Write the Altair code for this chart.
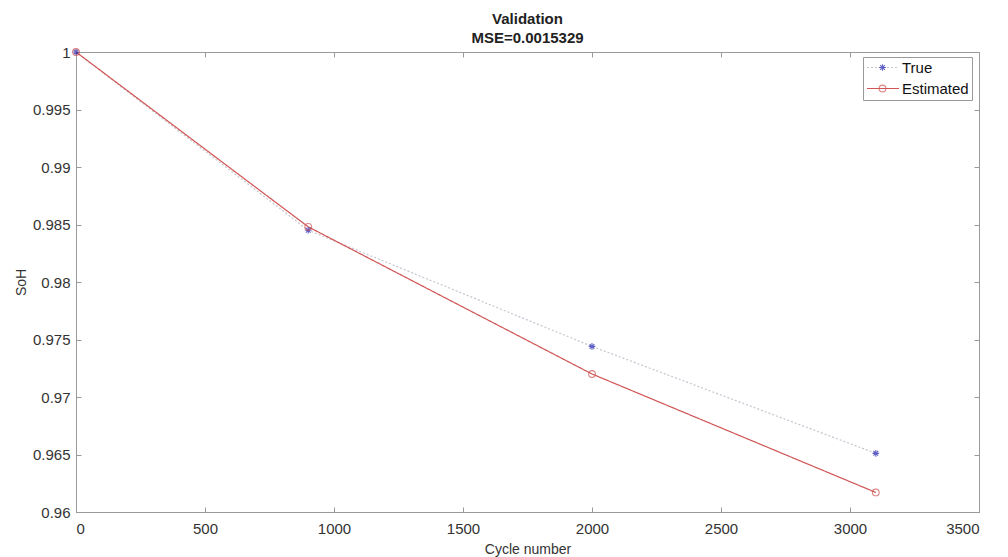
import altair as alt
import pandas as pd

# ---- data ----
cycles = [0, 900, 2000, 3100]
soh_true = [1.0, 0.9845, 0.9744, 0.9651]
soh_est = [1.0, 0.9848, 0.9720, 0.9617]
series_names = ["True", "Estimated"]
marker_keys = ["True ", "Estimated "]
x_ticks = [0, 500, 1000, 1500, 2000, 2500, 3000, 3500]
y_ticks = [0.96, 0.965, 0.97, 0.975, 0.98, 0.985, 0.99, 0.995, 1.0]
title_lines = ["Validation", "MSE=0.0015329"]

rows = []
for c, t in zip(cycles, soh_true):
    rows.append({"cycle": c, "soh": t, "series": "True"})
for c, e in zip(cycles, soh_est):
    rows.append({"cycle": c, "soh": e, "series": "Estimated"})
df = pd.DataFrame(rows)
df["series_m"] = df["series"] + " "

FONT = "Liberation Sans"
AX = "#9a9a9a"
TXT = "#333333"
line_colors = ["#c4c5d0", "#d05454"]
marker_colors = ["#2323b0", "#d05454"]
asterisk = "M-1,0L1,0M0,-1L0,1M-0.7,-0.7L0.7,0.7M-0.7,0.7L0.7,-0.7"

xscale = alt.Scale(domain=[0, 3500], nice=False, zero=False)
yscale = alt.Scale(domain=[0.96, 1.0], nice=False, zero=False)

base = alt.Chart(df)

main_x = alt.Axis(orient="bottom", values=x_ticks, format="d", ticks=False, grid=False,
                  domain=True, domainColor=AX, labelPadding=9, labelFontSize=15,
                  labelFont=FONT, labelColor=TXT, title="Cycle number", titleFont=FONT,
                  titleFontSize=14, titleFontWeight="normal", titleColor=TXT, titlePadding=6)
main_y = alt.Axis(orient="left", values=y_ticks, format="~g", ticks=False, grid=False,
                  domain=True, domainColor=AX, labelPadding=6, labelFontSize=15,
                  labelFont=FONT, labelColor=TXT, title="SoH", titleFont=FONT,
                  titleFontSize=14, titleFontWeight="normal", titleColor=TXT, titlePadding=4)


def tick_axis(orient, vals):
    return alt.Axis(orient=orient, values=vals, offset=-5, ticks=True, tickSize=5,
                    tickColor=AX, tickWidth=1, labels=False, domain=False, grid=False,
                    title=None)


legend_a = alt.Legend(orient="none", legendX=787, legendY=5, title=None, padding=3,
                      strokeColor=AX, fillColor="white", labelFont=FONT, labelFontSize=15,
                      labelColor="#111111", symbolType="stroke", symbolSize=1024,
                      symbolStrokeWidth=1.2, clipHeight=15, rowPadding=5, labelOffset=2,
                      symbolOffset=0)
legend_b = alt.Legend(orient="none", legendX=787, legendY=5, title=None, padding=3,
                      labelFont=FONT, labelFontSize=15, labelOpacity=0, labelExpr="' '",
                      symbolSize=45, symbolStrokeWidth=1.1, clipHeight=15, rowPadding=5,
                      symbolOffset=9)

lines = base.mark_line(strokeWidth=1.2).encode(
    x=alt.X("cycle:Q", scale=xscale, axis=main_x),
    y=alt.Y("soh:Q", scale=yscale, axis=main_y),
    stroke=alt.Stroke("series:N", scale=alt.Scale(domain=series_names, range=line_colors),
                      legend=legend_a),
    strokeDash=alt.StrokeDash("series:N",
                              scale=alt.Scale(domain=series_names, range=[[2, 2], [1, 0]])),
    detail="series:N",
)

points = base.mark_point(filled=False, size=45, strokeWidth=1.1).encode(
    x=alt.X("cycle:Q", scale=xscale, axis=tick_axis("bottom", x_ticks)),
    y=alt.Y("soh:Q", scale=yscale, axis=tick_axis("left", y_ticks)),
    color=alt.Color("series_m:N",
                    scale=alt.Scale(domain=marker_keys, range=marker_colors), legend=legend_b),
    shape=alt.Shape("series_m:N",
                    scale=alt.Scale(domain=marker_keys, range=[asterisk, "circle"]),
                    legend=legend_b),
)

ticks_other = base.mark_point(opacity=0).encode(
    x=alt.X("cycle:Q", scale=xscale, axis=tick_axis("top", x_ticks)),
    y=alt.Y("soh:Q", scale=yscale, axis=tick_axis("right", y_ticks)),
)

chart = alt.layer(lines, points, ticks_other).resolve_axis(
    x="independent", y="independent"
).properties(
    width=903,
    height=460,
    padding={"left": 68, "top": 44, "right": 21, "bottom": 45},
    autosize=alt.AutoSizeParams(type="none"),
    title=alt.Title(title_lines, font=FONT, fontSize=15, fontWeight="bold", color="#222222",
                    anchor="middle", offset=-1, lineHeight=19),
    background="white",
).configure_view(stroke=AX, strokeWidth=1)

chart.save("out.html", embed_options={"renderer": "svg", "actions": False})
